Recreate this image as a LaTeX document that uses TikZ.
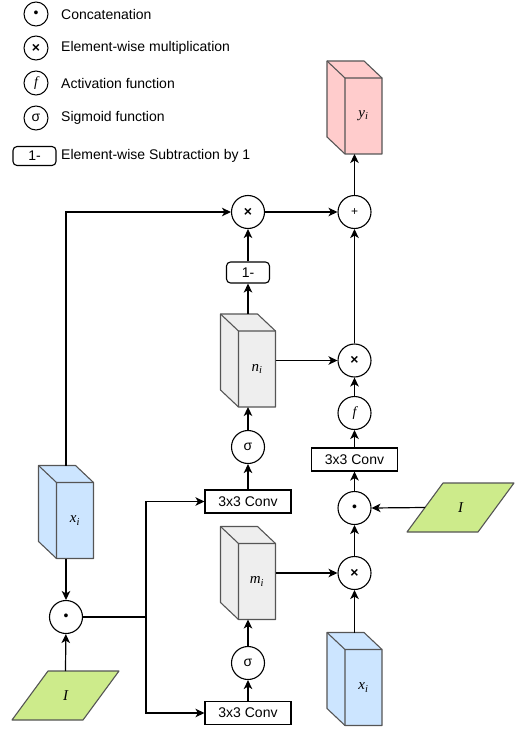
\documentclass[tikz,border=0pt]{standalone}
\usepackage{fontspec}
\setmainfont{Liberation Sans}
\newfontfamily\labelfont{Liberation Serif}
\usetikzlibrary{arrows.meta,backgrounds,calc}

\definecolor{edgegray}{HTML}{555555}
\definecolor{cubeblue}{HTML}{CCE5FF}
\definecolor{cubepink}{HTML}{FFCCCC}
\definecolor{cubegray}{HTML}{EEEEEE}
\definecolor{inputgreen}{HTML}{CDEB8B}

\newcommand\tensorname[2]{{\labelfont\itshape #1\textsubscript{#2}}}

\tikzset{
  txt/.style={font=\fontsize{14}{16}\selectfont},
  conn/.style={draw=black, line width=1.2pt, -{Stealth[length=9pt,width=8.5pt,inset=2.5pt]}},
  plainline/.style={draw=black, line width=1.2pt},
  op/.style={circle, draw=black, line width=1.1pt, minimum size=33pt, inner sep=0pt, txt},
  legop/.style={circle, draw=black, line width=1pt, minimum size=24pt, inner sep=0pt, txt},
  convbox/.style={rectangle, draw=black, line width=1.1pt, minimum width=86pt, minimum height=23pt, inner sep=0pt, txt},
  subbox/.style={rectangle, rounded corners=4pt, draw=black, line width=1.1pt, minimum width=43pt, minimum height=21pt, inner sep=0pt, txt},
  cubebox/.style={rectangle, minimum width=55pt, minimum height=93pt, inner sep=0pt, outer sep=0pt},
  cubelabel/.style={inner sep=0pt, font=\fontsize{15}{17}\selectfont},
  inbox/.style={rectangle, inner sep=0pt, outer sep=0pt, minimum width=107pt, minimum height=49pt},
  legtext/.style={anchor=west, inner sep=0pt, txt},
}

% cube outline around a named box node: front face, top face and left face
\newcommand\cubefaces[2]{%
  \filldraw[fill=#2, draw=edgegray, line width=1.1pt, line join=round]
    (#1.north west) -- ([xshift=-18pt]#1.north east) -- ([yshift=-17pt]#1.north east)
    -- (#1.south east) -- ([xshift=18pt]#1.south west) -- ([yshift=17pt]#1.south west) -- cycle;
  \draw[edgegray, line width=1.1pt, line join=round]
    (#1.north west) -- ([xshift=18pt,yshift=-17pt]#1.north west) -- ([yshift=-17pt]#1.north east)
    ([xshift=18pt,yshift=-17pt]#1.north west) -- ([xshift=18pt]#1.south west);
}
% slanted input shape inside a named box node
\newcommand\slantfaces[3]{%
  \filldraw[fill=#3, draw=edgegray, line width=1.1pt, line join=round]
    ([xshift=#2]#1.north west) -- (#1.north east) -- ([xshift=-#2]#1.south east)
    -- (#1.south west) -- cycle;
}

\begin{document}
\begin{tikzpicture}[x=1pt, y=-1pt]
\useasboundingbox (0,0) rectangle (515,730);

% ---------- legend ----------
\node[legop] (lgdot) at (36,14) {•};
\node[legop] (lgmul) at (36,48) {\textbf{×}};
\node[legop] (lgact) at (36,83) {\labelfont\itshape f};
\node[legop] (lgsig) at (36,118) {σ};
\node[subbox, minimum height=19pt] (lgsub) at (34.5,156) {1-};
\node[legtext] (lgdott) at (61,14) {Concatenation};
\node[legtext] (lgmult) at (61,48) {Element-wise multiplication};
\node[legtext] (lgactt) at (61,83) {Activation function};
\node[legtext] (lgsigt) at (61,118) {Sigmoid function};
\node[legtext] (lgsubt) at (61,156) {Element-wise Subtraction by 1};

% ---------- tensors ----------
\node[cubebox] (yi) at (354.5,107.5) {};
\node[cubebox] (ni) at (248,360.5) {};
\node[cubebox] (mi) at (248,573) {};
\node[cubebox] (xiA) at (66,512) {};
\node[cubebox] (xiB) at (354.5,679) {};

% ---------- inputs ----------
\node[inbox] (inL) at (65.5,695.5) {};
\node[inbox] (inR) at (460.5,507.5) {};

\begin{scope}[on background layer]
  \cubefaces{yi}{cubepink}
  \cubefaces{ni}{cubegray}
  \cubefaces{mi}{cubegray}
  \cubefaces{xiA}{cubeblue}
  \cubefaces{xiB}{cubeblue}
  \slantfaces{inL}{36pt}{inputgreen}
  \slantfaces{inR}{36pt}{inputgreen}
\end{scope}

\node[cubelabel] (yil) at ([xshift=9pt,yshift=-8.5pt]yi.center) {\tensorname{y}{i}};
\node[cubelabel] (nil) at ([xshift=9pt,yshift=-8.5pt]ni.center) {\tensorname{n}{i}};
\node[cubelabel] (mil) at ([xshift=9pt,yshift=-8.5pt]mi.center) {\tensorname{m}{i}};
\node[cubelabel] (xiAl) at ([xshift=9pt,yshift=-8.5pt]xiA.center) {\tensorname{x}{i}};
\node[cubelabel] (xiBl) at ([xshift=9pt,yshift=-8.5pt]xiB.center) {\tensorname{x}{i}};
\node[cubelabel] (inLl) at (inL.center) {\labelfont\itshape I};
\node[cubelabel] (inRl) at (inR.center) {\labelfont\itshape I};

% ---------- operators ----------
\node[op] (mulTop) at (248,212) {\textbf{×}};
\node[op] (plus) at (354.5,212) {\fontsize{12}{13}\selectfont +};
\node[subbox] (oneminus) at (248,272.5) {1-};
\node[op] (mulMid) at (354.5,360.5) {\textbf{×}};
\node[op] (fAct) at (354.5,413) {\labelfont\itshape f};
\node[op] (sigUp) at (248,447) {σ};
\node[convbox] (convR) at (354.5,459.5) {3x3 Conv};
\node[convbox] (convUp) at (248,501.5) {3x3 Conv};
\node[op] (dotR) at (354.5,508) {•};
\node[op] (mulLow) at (354.5,573) {\textbf{×}};
\node[op] (dotL) at (66,617) {•};
\node[op] (sigLow) at (248,663) {σ};
\node[convbox] (convLow) at (248,713) {3x3 Conv};

\coordinate (split) at (146,617);

% ---------- connectors ----------
\draw[conn] (xiA.north) |- (mulTop.west);
\draw[conn] (mulTop) -- (plus);
\draw[conn] (plus) -- (yi.south);
\draw[conn] (oneminus) -- (mulTop);
\draw[conn] (ni) -- (oneminus);
\draw[conn] (sigUp) -- (ni);
\draw[conn] (convUp) -- (sigUp);
\draw[conn] (ni.east) -- (mulMid.west);
\draw[conn] (mulMid) -- (plus);
\draw[conn] (fAct) -- (mulMid);
\draw[conn] (convR) -- (fAct);
\draw[conn] (dotR) -- (convR);
\draw[conn] ([xshift=18pt]inR.west) -- (dotR.east);
\draw[conn] (mulLow) -- (dotR);
\draw[conn] (mi.east) -- (mulLow.west);
\draw[conn] (xiB.north) -- (mulLow);
\draw[conn] (sigLow) -- (mi);
\draw[conn] (convLow) -- (sigLow);
\draw[conn] (xiA) -- (dotL);
\draw[conn] (inL.north) -- (dotL);
\draw[plainline] (dotL.east) -- (split);
\draw[conn] (split) |- (convUp.west);
\draw[conn] (split) |- (convLow.west);
\end{tikzpicture}
\end{document}
